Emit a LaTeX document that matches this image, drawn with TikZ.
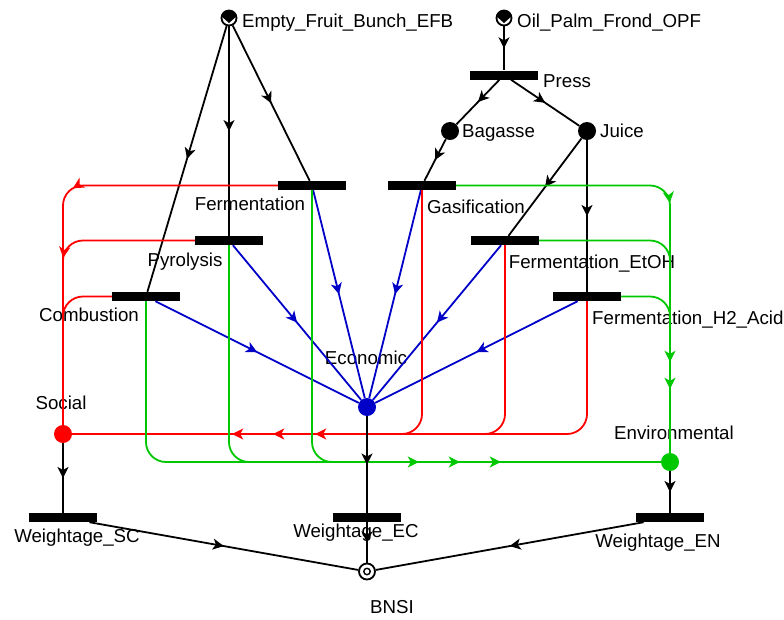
\documentclass[tikz,border=0pt]{standalone}
\usepackage{fontspec}
\setmainfont{Liberation Sans}
\usetikzlibrary{arrows.meta,decorations.markings}

\definecolor{ecoblue}{RGB}{0,0,200}
\definecolor{socred}{RGB}{255,0,0}
\definecolor{envgreen}{RGB}{0,200,0}

\begin{document}
\begin{tikzpicture}[x=1pt,y=-1pt,
    every node/.style={font=\fontsize{18.7}{22}\selectfont},
    bar/.style={fill=black,minimum width=68pt,minimum height=9pt,inner sep=0pt},
    place/.style={circle,fill=#1,minimum size=18pt,inner sep=0pt},
    src/.style={circle,draw,fill=white,line width=1.8pt,minimum size=15pt,inner sep=0pt,
      path picture={\fill[black] ([shift={(-9pt,9pt)}]path picture bounding box.center)
        -- ([shift={(9pt,9pt)}]path picture bounding box.center)
        -- ([shift={(9pt,3pt)}]path picture bounding box.center)
        -- ([shift={(0pt,-5pt)}]path picture bounding box.center)
        -- ([shift={(-9pt,3pt)}]path picture bounding box.center) -- cycle;}},
    sink/.style={circle,draw,fill=white,line width=1.8pt,minimum size=16pt,inner sep=0pt,
      path picture={\draw[black,line width=1.4pt] (path picture bounding box.center) circle[radius=3.2pt];}},
    lbl/.style={inner sep=0pt,text height=13pt,text depth=0pt},
    flow/.style={line width=1.8pt},
    midarrow/.style={postaction={decorate},decoration={markings,
      mark=at position #1 with {\arrow{Stealth[length=11pt,width=11pt,inset=3pt]}}}}]
  \useasboundingbox (0,0) rectangle (784,619);

  % feedstocks
  \node[src] (efb) at (229,18) {};
  \node[lbl,anchor=west] (efbl) at (242,21) {Empty\_Fruit\_Bunch\_EFB};
  \node[src] (opf) at (504,18) {};
  \node[lbl,anchor=west] (opfl) at (517,21) {Oil\_Palm\_Frond\_OPF};
  \node[bar] (press) at (504,75) {};
  \node[lbl,anchor=west] (pressl) at (543,81) {Press};
  \node[place=black] (bag) at (450,131) {};
  \node[lbl,anchor=west] (bagl) at (462,131) {Bagasse};
  \node[place=black] (juice) at (587,131) {};
  \node[lbl,anchor=west] (juicel) at (600,131) {Juice};

  % conversion routes
  \node[bar] (ferm) at (312,185.5) {};
  \node[lbl] (ferml) at (250,204) {Fermentation};
  \node[bar] (gasi) at (422,185.5) {};
  \node[lbl] (gasil) at (476,207) {Gasification};
  \node[bar] (pyro) at (229,240.5) {};
  \node[lbl] (pyrol) at (185,260) {Pyrolysis};
  \node[bar] (etoh) at (505,240.5) {};
  \node[lbl] (etohl) at (592,262) {Fermentation\_EtOH};
  \node[bar] (comb) at (146,296.5) {};
  \node[lbl] (combl) at (89,315) {Combustion};
  \node[bar] (acid) at (587,296.5) {};
  \node[lbl,anchor=west] (acidl) at (592,318) {Fermentation\_H2\_Acid};

  % sustainability pillars
  \node[place=ecoblue] (eco) at (367,407) {};
  \node[lbl] (ecol) at (366,358) {Economic};
  \node[place=socred] (social) at (63,434) {};
  \node[lbl] (sociall) at (61,403) {Social};
  \node[place=envgreen] (env) at (670,462) {};
  \node[lbl] (envl) at (674,433) {Environmental};

  % weightage and index
  \node[bar] (wsc) at (63,517.5) {};
  \node[lbl] (wscl) at (77,536) {Weightage\_SC};
  \node[bar] (wec) at (367,517.5) {};
  \node[lbl] (wecl) at (356,531) {Weightage\_EC};
  \node[bar] (wen) at (670,517.5) {};
  \node[lbl] (wenl) at (658,541) {Weightage\_EN};
  \node[sink] (bnsi) at (367,571.5) {};
  \node[lbl] (bnsil) at (392,607) {BNSI};

  % black arcs
  \draw[flow,midarrow=0.5] (efb) -- (ferm);
  \draw[flow,midarrow=0.5] (efb) -- (pyro);
  \draw[flow,midarrow=0.5] (efb) -- (comb);
  \draw[flow,midarrow=0.5] (opf) -- (press);
  \draw[flow,midarrow=0.5] (press) -- (bag);
  \draw[flow,midarrow=0.5] (press) -- (juice);
  \draw[flow,midarrow=0.5] (bag) -- (gasi);
  \draw[flow,midarrow=0.5] (juice) -- (etoh);
  \draw[flow,midarrow=0.5] (juice) -- (acid);

  % economic
  \draw[flow,ecoblue,midarrow=0.5] (ferm) -- (eco);
  \draw[flow,ecoblue,midarrow=0.5] (pyro) -- (eco);
  \draw[flow,ecoblue,midarrow=0.5] (comb) -- (eco);
  \draw[flow,ecoblue,midarrow=0.5] (gasi) -- (eco);
  \draw[flow,ecoblue,midarrow=0.5] (etoh) -- (eco);
  \draw[flow,ecoblue,midarrow=0.5] (acid) -- (eco);

  % social
  \draw[flow,socred,rounded corners=20pt,midarrow=-240pt] (ferm.west) -| (social);
  \draw[flow,socred,rounded corners=20pt,midarrow=-167pt] (pyro.west) -| (social);
  \draw[flow,socred,rounded corners=20pt] (comb.west) -| (social);
  \draw[flow,socred,rounded corners=20pt,midarrow=-160pt] (gasi.south) |- (social);
  \draw[flow,socred,rounded corners=20pt,midarrow=-201pt] (etoh.south) |- (social);
  \draw[flow,socred,rounded corners=20pt,midarrow=-243pt] (acid.south) |- (social);

  % environmental
  \draw[flow,envgreen,rounded corners=20pt,midarrow=-160pt] (ferm.south) |- (env);
  \draw[flow,envgreen,rounded corners=20pt,midarrow=-201pt] (pyro.south) |- (env);
  \draw[flow,envgreen,rounded corners=20pt,midarrow=-242pt] (comb.south) |- (env);
  \draw[flow,envgreen,rounded corners=20pt,midarrow=-250pt] (gasi.east) -| (env);
  \draw[flow,envgreen,rounded corners=20pt,midarrow=-91pt] (etoh.east) -| (env);
  \draw[flow,envgreen,rounded corners=20pt,midarrow=-64pt] (acid.east) -| (env);

  % to the index
  \draw[flow,midarrow=0.5] (social) -- (wsc);
  \draw[flow,midarrow=0.5] (eco) -- (wec);
  \draw[flow,midarrow=0.5] (env) -- (wen);
  \draw[flow,midarrow=0.5] (wsc) -- (bnsi);
  \draw[flow,midarrow=0.5] (wec) -- (bnsi);
  \draw[flow,midarrow=0.5] (wen) -- (bnsi);
\end{tikzpicture}
\end{document}
